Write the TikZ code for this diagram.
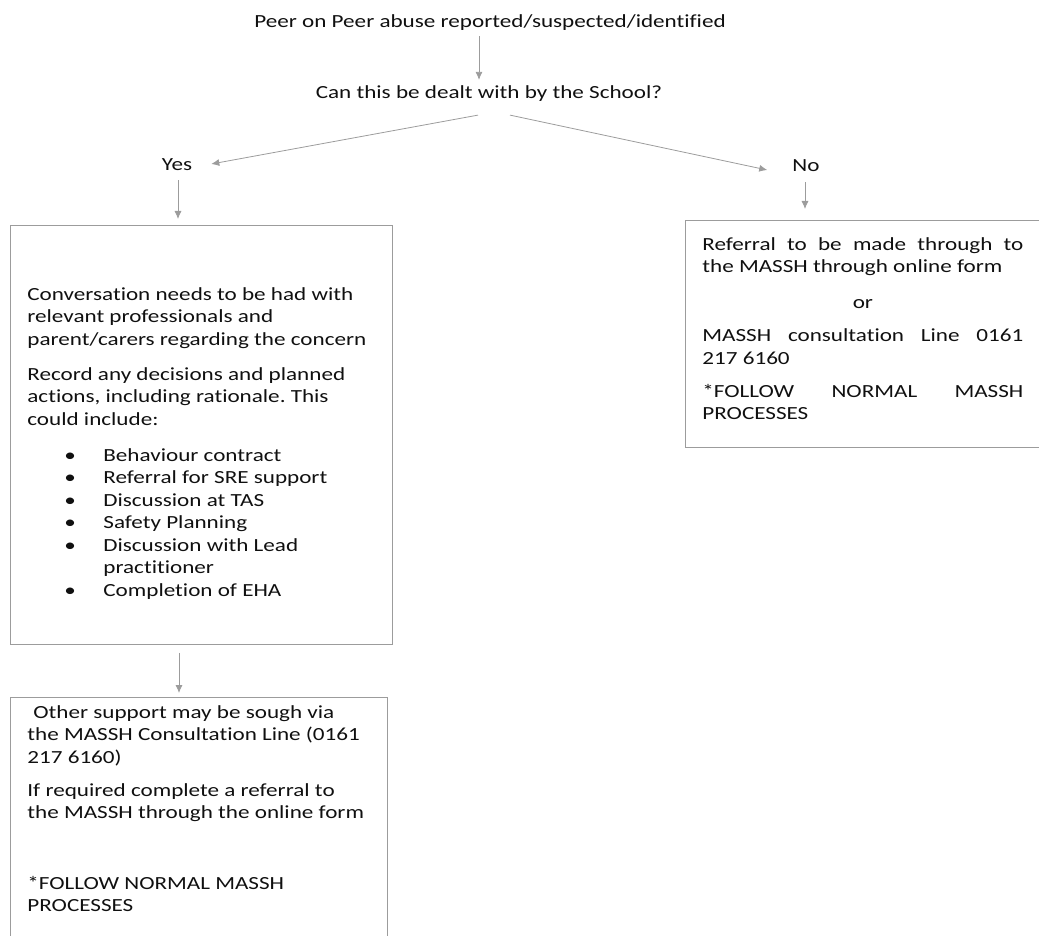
\documentclass[tikz,border=0pt]{standalone}
\usepackage{fontspec}
\setmainfont[FakeStretch=1.25,Ligatures=NoCommon]{Carlito}
\usetikzlibrary{positioning,calc,arrows.meta}
\frenchspacing

\definecolor{linegray}{HTML}{9C9C9C}
\definecolor{inkgray}{HTML}{101010}

% fixed-height text block for the boxes: height, width, top gap, text
\newcommand{\boxtext}[4]{\begin{minipage}[t][#1][t]{#2}\raggedright\vspace*{#3}#4\end{minipage}}
\newcommand{\bulletline}[1]{\hspace*{37pt}\makebox[39pt][l]{\textbullet}#1}

\begin{document}
\begin{tikzpicture}[x=1pt, y=-1pt,
    every node/.style={text=inkgray, font=\fontsize{18.5}{22.5}\selectfont},
    plain/.style={inner sep=0pt},
    panel/.style={draw=linegray, line width=0.8pt, anchor=north west, inner xsep=17pt, inner ysep=0pt},
    conn/.style={draw=linegray, line width=0.8pt, -{Latex[length=8pt,width=7pt]}}
]
\useasboundingbox (0,0) rectangle (1039,936);

% Question
\node[plain] (start) at (490,23) {Peer on Peer abuse reported/suspected/identified};
\node[plain] (ask) at (489,94) {Can this be dealt with by the School?};
\node[plain] (yes) at (177,165) {Yes};
\node[plain] (no) at (806,166) {No};

% Yes branch
\node[panel] (act) at (10,225) {\boxtext{419pt}{348pt}{62pt}{%
Conversation needs to be had with\\
relevant professionals and\\
parent/carers regarding the concern\\[12.5pt]
Record any decisions and planned\\
actions, including rationale. This\\
could include:\\[13.5pt]
\bulletline{Behaviour contract}\\
\bulletline{Referral for SRE support}\\
\bulletline{Discussion at TAS}\\
\bulletline{Safety Planning}\\
\bulletline{Discussion with Lead}\\
\hspace*{76pt}practitioner\\
\bulletline{Completion of EHA}}};

\node[panel] (other) at (10,697) {\boxtext{265pt}{343pt}{8pt}{%
\hspace*{6pt}Other support may be sough via\\
the MASSH Consultation Line (0161\\
217 6160)\\[10.5pt]
If required complete a referral to\\
the MASSH through the online form\\[48pt]
*FOLLOW NORMAL MASSH\\
PROCESSES}};

% No branch
\node[panel] (refer) at (685,220) {\boxtext{227pt}{343pt}{17pt}{%
\makebox[321pt][s]{Referral to be made through to}\\
the MASSH through online form\\[13.5pt]
\makebox[321pt]{or}\\[10.5pt]
\makebox[321pt][s]{MASSH consultation Line 0161}\\
217 6160\\[10.5pt]
\makebox[321pt][s]{*FOLLOW NORMAL MASSH}\\
PROCESSES}};

% Connectors
\draw[conn] ($(start.south)+(-11,5)$) -- ($(ask.north)+(-10,-6)$);
\draw[conn] ($(ask.south)+(-11,13)$) -- ($(yes.east)+(19,-1)$);
\draw[conn] ($(ask.south)+(21,13)$) -- ($(no.west)+(-25,4)$);
\draw[conn] ($(yes.south)+(1,9)$) -- ($(act.north west)+(168,-6)$);
\draw[conn] ($(no.south)+(-1,10)$) -- ($(refer.north west)+(120,-11)$);
\draw[conn] ($(act.south west)+(169,8)$) -- ($(other.north west)+(169,-4)$);

\end{tikzpicture}
\end{document}
